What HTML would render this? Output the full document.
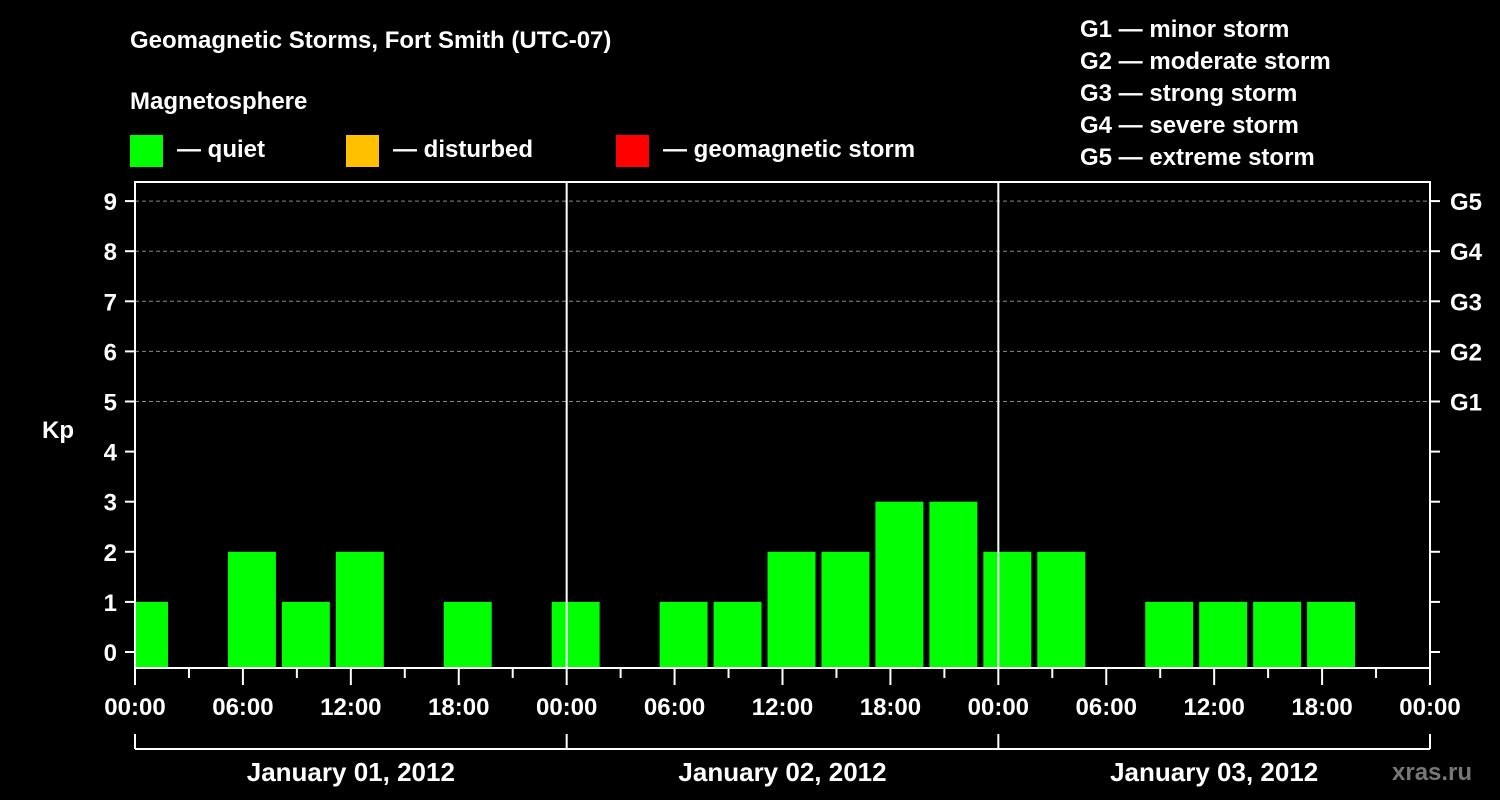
<!DOCTYPE html>
<html><head><meta charset="utf-8"><style>
body{margin:0;background:#000;}
svg{display:block;font-family:"Liberation Sans",Arial,sans-serif;font-weight:bold;}
</style></head><body>
<svg id="chart" width="1500" height="800" viewBox="0 0 1500 800">
<rect width="1500" height="800" fill="#000"/>
<text x="130" y="48" fill="#fff" font-size="24">Geomagnetic Storms, Fort Smith (UTC-07)</text>
<text x="130" y="109" fill="#fff" font-size="24">Magnetosphere</text>
<g><rect x="130" y="135" width="33" height="32" fill="#00ff00"/><text x="177" y="157" fill="#fff" font-size="24">— quiet</text></g>
<g><rect x="346" y="135" width="33" height="32" fill="#ffc000"/><text x="393" y="157" fill="#fff" font-size="24">— disturbed</text></g>
<g><rect x="616" y="135" width="33" height="32" fill="#ff0000"/><text x="663" y="157" fill="#fff" font-size="24">— geomagnetic storm</text></g>
<g fill="#fff" font-size="24">
<text x="1080" y="37">G1 — minor storm</text><text x="1080" y="69">G2 — moderate storm</text><text x="1080" y="101">G3 — strong storm</text><text x="1080" y="133">G4 — severe storm</text><text x="1080" y="165">G5 — extreme storm</text></g>
<text x="42" y="438" fill="#fff" font-size="24">Kp</text>
<text x="1392" y="780" fill="#777" font-size="24">xras.ru</text>
<g id="grid"></g><g id="bars"></g><g id="axes"></g>
</svg>
<script>
const kpValues=[1,0,2,1,2,0,1,0,1,0,1,1,2,2,3,3,2,2,0,1,1,1,1,0,0];
const slotStartHours=[-1,2,5,8,11,14,17,20,23,26,29,32,35,38,41,44,47,50,53,56,59,62,65,68,71];
const yTicks=[0,1,2,3,4,5,6,7,8,9];
const gLabels=["G1","G2","G3","G4","G5"];
const xTickLabels=["00:00","06:00","12:00","18:00"];
const dayLabels=["January 01, 2012","January 02, 2012","January 03, 2012"];
const NS="http://www.w3.org/2000/svg";
const X0=135,X1=1430,HRS=72;
const xs=h=>X0+(h/HRS)*(X1-X0);
const ys=v=>652-v*50.1;
const TOP=182,BOT=668;
function mk(tag,attrs,parent,text){const e=document.createElementNS(NS,tag);for(const k in attrs)e.setAttribute(k,attrs[k]);if(text!=null)e.textContent=text;document.getElementById(parent).appendChild(e);return e;}
// grid
for(const v of yTicks){
 if(v>=5){const l=mk('line',{x1:X0,x2:X1,y1:ys(v),y2:ys(v),stroke:'#888','stroke-dasharray':'4,3','stroke-width':1},'grid');
 
 }
}
// bars
kpValues.forEach((v,i)=>{
 if(v<=0)return;
 let a=xs(slotStartHours[i])+3,b=xs(slotStartHours[i]+3)-3;
 a=Math.max(a,X0+1);b=Math.min(b,X1);
 const col=v>=5?'#ff0000':(v>=4?'#ffc000':'#00ff00');
 const r=mk('rect',{x:a,y:ys(v),width:b-a,height:BOT-1-ys(v),fill:col},'bars');
 
 
});
// axes
const fr=mk('rect',{x:X0,y:TOP,width:X1-X0,height:BOT-TOP,fill:'none',stroke:'#fff','stroke-width':2},'axes');


for(const d of [1,2]){const l=mk('line',{x1:xs(d*24),x2:xs(d*24),y1:TOP,y2:BOT,stroke:'#fff','stroke-width':2},'axes');
 
 }
for(const v of yTicks){
 mk('line',{x1:125,x2:X0,y1:ys(v),y2:ys(v),stroke:'#fff','stroke-width':2},'axes');
 mk('line',{x1:X1,x2:1440,y1:ys(v),y2:ys(v),stroke:'#fff','stroke-width':2},'axes');
 const t=mk('text',{x:117,y:ys(v)+9,fill:'#fff','font-size':24,'text-anchor':'end'},'axes',String(v));
 
 
 if(v>=5){const g=mk('text',{x:1450,y:ys(v)+9,fill:'#fff','font-size':24},'axes',gLabels[v-5]);
 
 }
}
for(let h=0;h<=HRS;h+=3){
 const major=h%6===0;
 mk('line',{x1:xs(h),x2:xs(h),y1:BOT,y2:major?685:678,stroke:'#fff','stroke-width':2},'axes');
 if(major){const t=mk('text',{x:xs(h),y:715,fill:'#fff','font-size':24,'text-anchor':'middle'},'axes',xTickLabels[(h/6)%4]);
 
 }
}
mk('line',{x1:X0,x2:X1,y1:749,y2:749,stroke:'#fff','stroke-width':2},'axes');
for(let d=0;d<=3;d++)mk('line',{x1:xs(d*24),x2:xs(d*24),y1:734,y2:749,stroke:'#fff','stroke-width':2},'axes');
dayLabels.forEach((s,d)=>{const t=mk('text',{x:xs(d*24+12),y:781,fill:'#fff','font-size':26,'text-anchor':'middle'},'axes',s);
 
 });
</script>
</body></html>
